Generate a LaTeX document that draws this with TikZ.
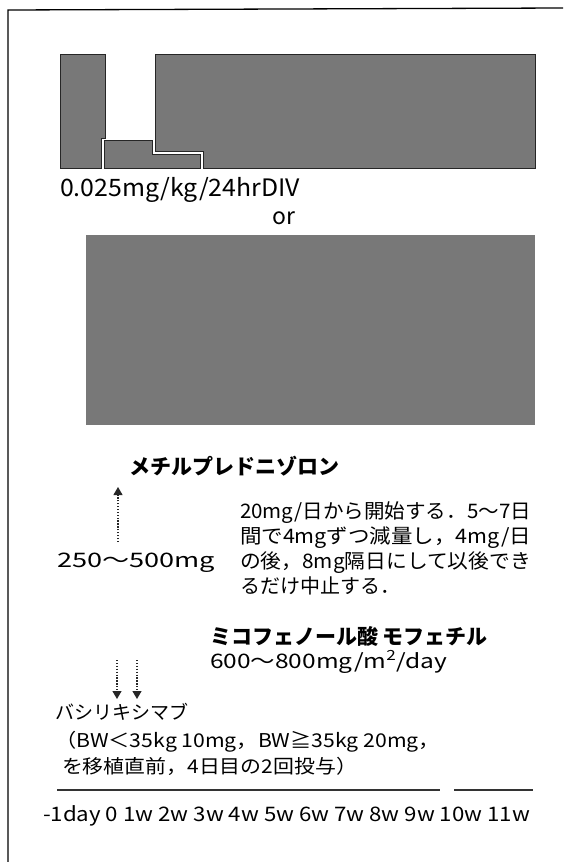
\documentclass[tikz,border=0pt]{standalone}
\usepackage{fontspec}
\usepackage{graphicx}
\setmainfont{Noto Sans CJK JP}
\usetikzlibrary{arrows.meta}
\newcommand{\fitw}[2]{\resizebox{#1}{\height}{#2}}
\definecolor{texgray}{gray}{0.47}
\begin{document}
\begin{tikzpicture}[x=1pt,y=-1pt,
  blockfill/.style={fill=texgray, draw=black!85, line width=0.9pt},
  lbl/.style={inner sep=0pt, outer sep=0pt, anchor=base west},
  dotline/.style={line width=1.1pt, dash pattern=on 1.3pt off 1.6pt, draw=black!85},
  tipup/.style={-{Triangle[width=9pt,length=8pt]}},
  f19/.style={font=\fontsize{19}{23}\selectfont},
  f20/.style={font=\fontsize{20}{25}\selectfont},
  f21b/.style={font=\fontsize{21}{25}\bfseries\selectfont},
  rule/.style={line width=1.1pt, draw=black!80},
]
\useasboundingbox (0,0) rectangle (563,862);
\fill[white] (0,0) rectangle (563,862);

% frame
\draw[line width=1.3pt] (8,862) -- (8,10) -- (563,8);

% top schedule blocks
\path[blockfill] (60,54) -- (105,54) -- (105,138) -- (101,138) -- (101,168) -- (60,168) -- cycle;
\path[blockfill] (104,140) -- (152,140) -- (152,154) -- (200,154) -- (200,168) -- (104,168) -- cycle;
\path[blockfill] (155,54) -- (535,54) -- (535,168) -- (203,168) -- (203,151) -- (155,151) -- cycle;

\node[lbl, font=\fontsize{24}{28}\selectfont] (dose) at (60,196) {\fitw{240pt}{0.025mg/kg/24hrDIV}};
\node[inner sep=0pt, anchor=base, font=\fontsize{23}{27}\selectfont] (or) at (284,224) {or};

% alternative block
\fill[texgray] (86,235) rectangle (535,425);

% methylprednisolone
\node[lbl, f21b] (mp) at (129,474) {メチルプレドニゾロン};
\coordinate (upS) at (118,542);
\coordinate (upT) at (118,487);
\draw[dotline, tipup] (upS) -- (upT);
\node[lbl, f20] (pulse) at (57,567) {\fitw{158pt}{250〜500mg}};

\node[lbl, f20] (t1) at (240,518) {\fitw{291pt}{20mg/日から開始する．5〜7日}};
\node[lbl, f20] (t2) at (240,543) {\fitw{291pt}{間で4mgずつ減量し，4mg/日}};
\node[lbl, f20] (t3) at (240,568) {\fitw{291pt}{の後，8mg隔日にして以後でき}};
\node[lbl, f20] (t4) at (240,593) {るだけ中止する．};

% MMF
\node[lbl, f21b] (mmf) at (210,644) {ミコフェノール酸 モフェチル};
\node[lbl, f20] (mmfd) at (210,668) {\fitw{237pt}{600〜800mg/m\textsuperscript{2}/day}};

% basiliximab
\coordinate (b1S) at (117,660);
\coordinate (b1T) at (117,699);
\coordinate (b2S) at (137,660);
\coordinate (b2T) at (137,699);
\draw[dotline, tipup] (b1S) -- (b1T);
\draw[dotline, tipup] (b2S) -- (b2T);
\node[lbl, f19] (bas) at (55,719) {バシリキシマブ};
\node[lbl, f19] (bas2) at (55,747) {\fitw{385pt}{（BW＜35kg 10mg，BW≧35kg 20mg，}};
\node[lbl, f19] (bas3) at (62,773) {\fitw{295pt}{を移植直前，4日目の2回投与）}};

% time axis
\coordinate (r1a) at (57,790);
\coordinate (r1b) at (440,790);
\coordinate (r2a) at (454,790);
\coordinate (r2b) at (533,790);
\draw[rule] (r1a) -- (r1b);
\draw[rule] (r2a) -- (r2b);
\node[lbl, f20] (axis) at (43,821) {\fitw{487pt}{-1day 0 1w 2w 3w 4w 5w 6w 7w 8w 9w 10w 11w}};
\end{tikzpicture}
\end{document}
